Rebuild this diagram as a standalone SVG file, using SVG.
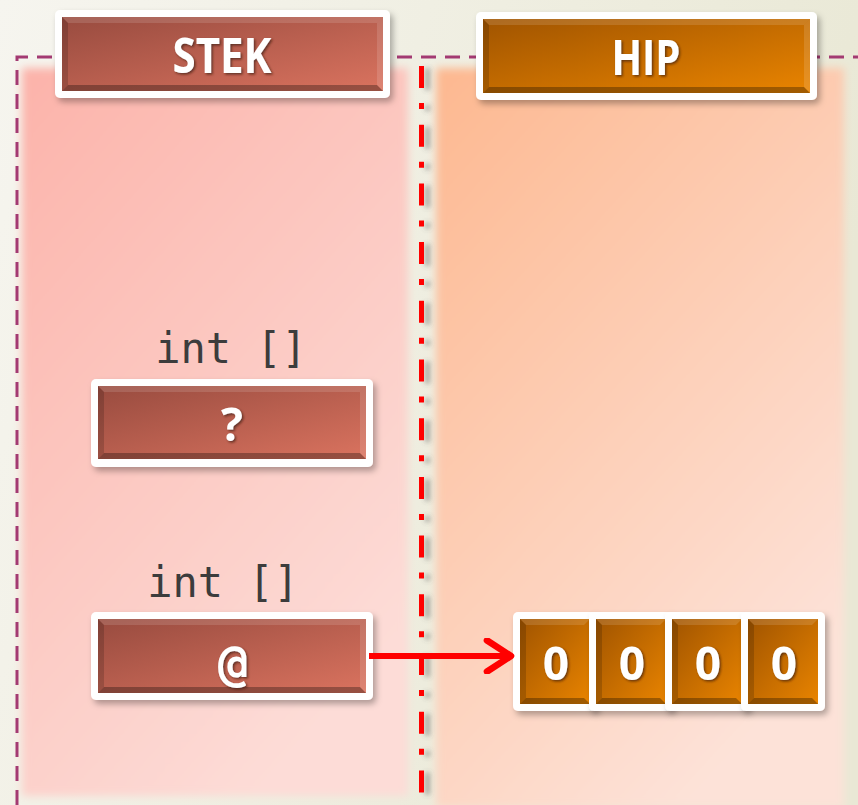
<svg xmlns="http://www.w3.org/2000/svg" width="858" height="805" viewBox="0 0 858 805">
  <defs>
    <linearGradient id="bg" x1="0" y1="0" x2="1" y2="0.3">
      <stop offset="0" stop-color="#f6f5ef"/>
      <stop offset="1" stop-color="#e9e8d5"/>
    </linearGradient>
    <linearGradient id="stackArea" x1="0" y1="0" x2="0.6" y2="1">
      <stop offset="0" stop-color="#fcb3aa"/>
      <stop offset="1" stop-color="#fddcd7"/>
    </linearGradient>
    <linearGradient id="heapArea" x1="0" y1="0" x2="0.6" y2="1">
      <stop offset="0" stop-color="#fdb890"/>
      <stop offset="1" stop-color="#fde2d8"/>
    </linearGradient>
    <linearGradient id="red" x1="0" y1="0" x2="1" y2="1">
      <stop offset="0" stop-color="#984b3f"/>
      <stop offset="1" stop-color="#da735f"/>
    </linearGradient>
    <linearGradient id="orange" x1="0" y1="0" x2="1" y2="1">
      <stop offset="0" stop-color="#a05400"/>
      <stop offset="1" stop-color="#e98400"/>
    </linearGradient>
    <filter id="soft" x="-10%" y="-10%" width="120%" height="120%">
      <feGaussianBlur stdDeviation="4"/>
    </filter>
    <filter id="boxShadow" x="-10%" y="-20%" width="125%" height="150%">
      <feDropShadow dx="3" dy="4" stdDeviation="3" flood-color="#000" flood-opacity="0.3"/>
    </filter>
    <filter id="textShadow" x="-20%" y="-20%" width="140%" height="140%">
      <feDropShadow dx="1.5" dy="1.5" stdDeviation="1" flood-color="#3a1a10" flood-opacity="0.7"/>
    </filter>
    <filter id="lineShadow" filterUnits="userSpaceOnUse" x="400" y="50" width="50" height="770">
      <feDropShadow dx="6" dy="2" stdDeviation="2.5" flood-color="#555" flood-opacity="0.45"/>
    </filter>
    <marker id="chevron" viewBox="0 0 12 12" refX="10" refY="6" markerWidth="6" markerHeight="6" markerUnits="strokeWidth" orient="auto">
      <path d="M2,0.8 L10,6 L2,11.2" fill="none" stroke="#ff0000" stroke-width="2.2" stroke-linecap="round" stroke-linejoin="round"/>
    </marker>
    <style>
      .frame { fill: #ffffff; filter: url(#boxShadow); }
      .hl { fill: #ffffff; opacity: 0.13; }
      .sh { fill: #000000; opacity: 0.16; }
      .shd { fill: #000000; opacity: 0.3; }
      .title { font-family: "Open Sans", "DejaVu Sans", sans-serif; font-weight: 700; fill: #ffffff; text-anchor: middle; filter: url(#textShadow); }
      .type { font-family: "DejaVu Sans Mono", "Liberation Mono", monospace; font-size: 42px; fill: #3c3c3c; text-anchor: middle; }
      .val { font-family: "Open Sans", "DejaVu Sans", sans-serif; font-weight: 700; font-size: 46px; fill: #ffffff; text-anchor: middle; filter: url(#textShadow); }
      .mono { font-family: "DejaVu Sans Mono", "Liberation Mono", monospace; font-weight: 700; font-size: 50px; fill: #ffffff; text-anchor: middle; filter: url(#textShadow); }
    </style>
  </defs>

  <!-- page background -->
  <rect x="0" y="0" width="858" height="805" fill="url(#bg)"/>

  <!-- memory areas -->
  <rect x="22" y="68" width="386" height="728" fill="url(#stackArea)" filter="url(#soft)"/>
  <rect x="436" y="68" width="408" height="740" fill="url(#heapArea)" filter="url(#soft)"/>

  <!-- purple dashed boundary -->
  <path d="M17,805 L17,57 L858,57" fill="none" stroke="#a33a72" stroke-width="3" stroke-dasharray="15 9"/>

  <!-- red dash-dot divider -->
  <line x1="421.5" y1="66" x2="421.5" y2="805" stroke="#ff0000" stroke-width="5" stroke-dasharray="22 15 6 15.7" filter="url(#lineShadow)"/>

  <!-- STEK header -->
  <g id="stek-header">
    <rect class="frame" x="55" y="10" width="335" height="88" rx="5"/>
    <rect x="62" y="17" width="321" height="74" fill="url(#red)"/>
    <polygon class="hl" points="62,17 383,17 377,23 68,23"/>
    <polygon class="sh" points="62,17 68,23 68,85 62,91"/>
    <polygon class="shd" points="62,91 68,85 377,85 383,91"/>
    <polygon class="hl" points="383,17 383,91 377,85 377,23"/>
    <text class="title" x="222" y="73" font-size="49" textLength="99" lengthAdjust="spacingAndGlyphs">STEK</text>
  </g>

  <!-- HIP header -->
  <g id="hip-header">
    <rect class="frame" x="476" y="12" width="341" height="88" rx="5"/>
    <rect x="483" y="19" width="327" height="74" fill="url(#orange)"/>
    <polygon class="hl" points="483,19 810,19 804,25 489,25"/>
    <polygon class="sh" points="483,19 489,25 489,87 483,93"/>
    <polygon class="shd" points="483,93 489,87 804,87 810,93"/>
    <polygon class="hl" points="810,19 810,93 804,87 804,25"/>
    <text class="title" x="646" y="75" font-size="49" textLength="69" lengthAdjust="spacingAndGlyphs">HIP</text>
  </g>

  <!-- first stack variable: unassigned reference -->
  <g id="var-unassigned">
    <text class="type" x="231" y="363">int []</text>
    <rect class="frame" x="91" y="379" width="282" height="88" rx="5"/>
    <rect x="98" y="386" width="268" height="73" fill="url(#red)"/>
    <polygon class="hl" points="98,386 366,386 360,392 104,392"/>
    <polygon class="sh" points="98,386 104,392 104,453 98,459"/>
    <polygon class="shd" points="98,459 104,453 360,453 366,459"/>
    <polygon class="hl" points="366,386 366,459 360,453 360,392"/>
    <text class="val" x="232" y="441">?</text>
  </g>

  <!-- second stack variable: reference to heap array -->
  <g id="var-reference">
    <text class="type" x="223" y="597">int []</text>
    <rect class="frame" x="91" y="612" width="282" height="88" rx="5"/>
    <rect x="98" y="619" width="268" height="74" fill="url(#red)"/>
    <polygon class="hl" points="98,619 366,619 360,625 104,625"/>
    <polygon class="sh" points="98,619 104,625 104,687 98,693"/>
    <polygon class="shd" points="98,693 104,687 360,687 366,693"/>
    <polygon class="hl" points="366,619 366,693 360,687 360,625"/>
    <text class="mono" x="233" y="680">@</text>
  </g>

  <!-- heap array of four zeros -->
  <g id="heap-array">
    <g id="cell-0">
      <rect class="frame" x="513" y="612" width="84" height="99" rx="5"/>
      <rect x="520" y="619" width="70" height="85" fill="url(#orange)"/>
      <polygon class="hl" points="520,619 590,619 584,625 526,625"/>
      <polygon class="sh" points="520,619 526,625 526,698 520,704"/>
      <polygon class="shd" points="520,704 526,698 584,698 590,704"/>
      <text class="val" x="556" y="680">0</text>
    </g>
    <g id="cell-1">
      <rect class="frame" x="589" y="612" width="84" height="99" rx="5"/>
      <rect x="596" y="619" width="70" height="85" fill="url(#orange)"/>
      <polygon class="hl" points="596,619 666,619 660,625 602,625"/>
      <polygon class="sh" points="596,619 602,625 602,698 596,704"/>
      <polygon class="shd" points="596,704 602,698 660,698 666,704"/>
      <text class="val" x="632" y="680">0</text>
    </g>
    <g id="cell-2">
      <rect class="frame" x="665" y="612" width="84" height="99" rx="5"/>
      <rect x="672" y="619" width="70" height="85" fill="url(#orange)"/>
      <polygon class="hl" points="672,619 742,619 736,625 678,625"/>
      <polygon class="sh" points="672,619 678,625 678,698 672,704"/>
      <polygon class="shd" points="672,704 678,698 736,698 742,704"/>
      <text class="val" x="708" y="680">0</text>
    </g>
    <g id="cell-3">
      <rect class="frame" x="741" y="612" width="84" height="99" rx="5"/>
      <rect x="748" y="619" width="70" height="85" fill="url(#orange)"/>
      <polygon class="hl" points="748,619 818,619 812,625 754,625"/>
      <polygon class="sh" points="748,619 754,625 754,698 748,704"/>
      <polygon class="shd" points="748,704 754,698 812,698 818,704"/>
      <text class="val" x="784" y="680">0</text>
    </g>
  </g>

  <!-- connectors -->
  <g id="connectors">
    <line x1="369" y1="656" x2="511" y2="656" stroke="#ff0000" stroke-width="6" marker-end="url(#chevron)"/>
  </g>
</svg>
